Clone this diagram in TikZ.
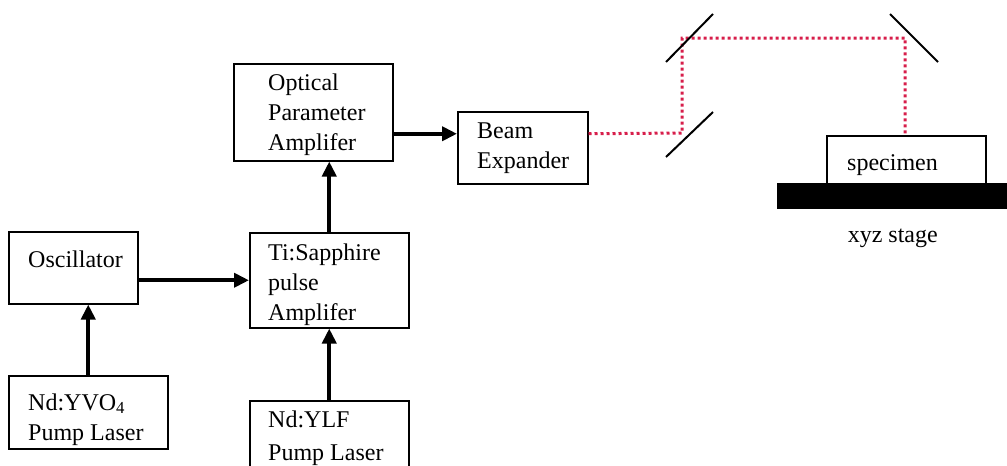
\documentclass[tikz,border=0pt]{standalone}
\usepackage{fontspec}
\setmainfont{Liberation Serif}
\usetikzlibrary{positioning,arrows.meta,calc}

\definecolor{beamred}{RGB}{215,30,75}

\tikzset{
  unit/.style={draw, line width=1.5pt, fill=white, anchor=north west, inner sep=0pt},
  txt/.style={anchor=base west, align=left, inner sep=0pt, font=\fontsize{24}{30}\selectfont},
  arr/.style={line width=4pt, -{Triangle[length=15pt,width=14pt]}},
  beam/.style={beamred, line width=3pt, dash pattern=on 3pt off 3pt},
  mirror/.style={line width=2pt},
}

\begin{document}
\begin{tikzpicture}[x=1pt, y=-1pt]
  \clip (0,0) rectangle (1007,466);

  % boxes
  \node[unit, minimum width=129pt, minimum height=72pt] (osc) at (8,231) {};
  \node[unit, minimum width=159pt, minimum height=73pt] (yvo) at (8,375) {};
  \node[unit, minimum width=159pt, minimum height=95pt] (ti) at (249,232) {};
  \node[unit, minimum width=159pt, minimum height=90pt] (ylf) at (249,400) {};
  \node[unit, minimum width=159pt, minimum height=97pt] (opa) at (233,63) {};
  \node[unit, minimum width=130pt, minimum height=72pt] (be) at (457,111) {};
  \node[unit, minimum width=159pt, minimum height=48pt] (spec) at (826,135) {};
  \node[unit, fill=black, minimum width=230pt, minimum height=24pt] (stage) at (777,183) {};

  % texts (base = last line)
  \node[txt] (osc-t) at ([xshift=20pt,yshift=-36pt]osc.north west) {Oscillator};
  \node[txt] (yvo-t) at ([xshift=20pt,yshift=-65pt]yvo.north west) {Nd:YVO\textsubscript{4}\\Pump Laser};
  \node[txt] (ti-t) at ([xshift=19pt,yshift=-88pt]ti.north west) {Ti:Sapphire\\pulse\\Amplifer};
  \node[txt] (ylf-t) at ([xshift=19pt,yshift=-60pt]ylf.north west) {Nd:YLF\\[3pt]Pump Laser};
  \node[txt] (opa-t) at ([xshift=35pt,yshift=-87pt]opa.north west) {Optical\\Parameter\\Amplifer};
  \node[txt] (be-t) at ([xshift=20pt,yshift=-57pt]be.north west) {Beam\\Expander};
  \node[txt] (spec-t) at ([xshift=21pt,yshift=-35pt]spec.north west) {specimen};
  \node[txt, below=34pt of stage.south, anchor=base] (stage-t) {xyz stage};

  % pulse chain
  \coordinate (bein) at ([yshift=14pt]be.west);
  \draw[arr] (yvo.north) -- (yvo.north |- osc.south);
  \draw[arr] (ti.west -| osc.east) -- (ti.west);
  \draw[arr] (ylf.north) -- (ti.south);
  \draw[arr] (ti.north) -- (ti.north |- opa.south);
  \draw[arr] (opa.east |- bein) -- (bein);

  % mirrors and beam path
  \coordinate (m1) at (682,133);
  \coordinate (m2) at (682,38);
  \coordinate (m3) at (905,38);
  \draw[beam] (be.east |- bein) -- (m1) -- (m2) -- (m3) -- (m3 |- spec.north);
  \draw[mirror] (666,157) -- (713,112);
  \draw[mirror] (666,62) -- (713,14);
  \draw[mirror] (890,14) -- (938,62);
\end{tikzpicture}
\end{document}
